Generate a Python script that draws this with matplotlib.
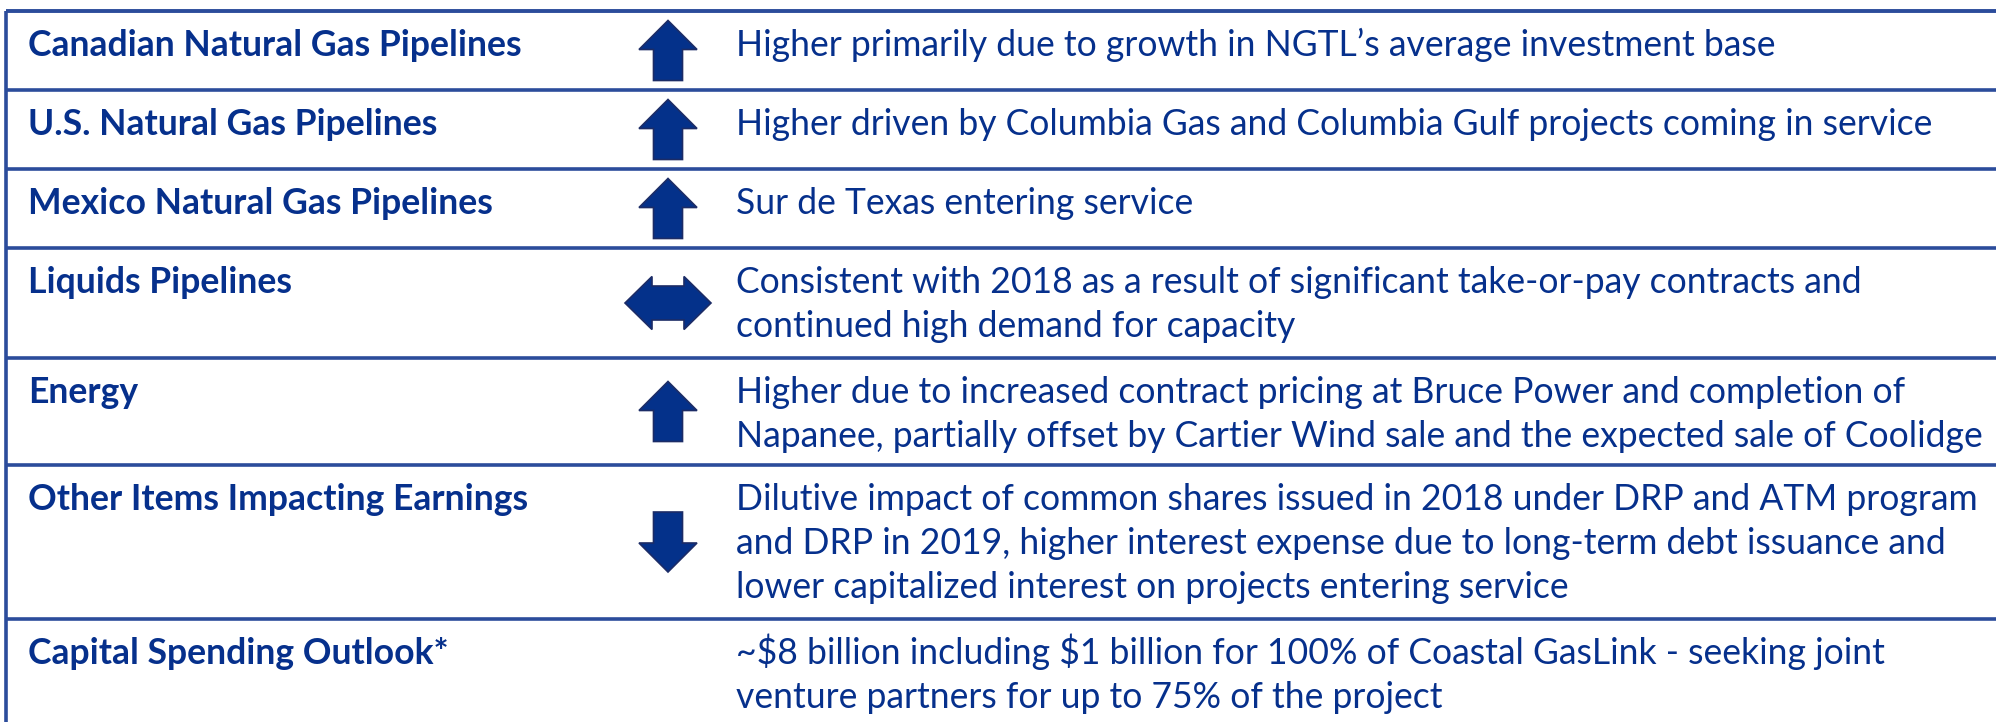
import matplotlib.pyplot as plt
from matplotlib.patches import Polygon

# table content
labels = ['Canadian Natural Gas Pipelines', 'U.S. Natural Gas Pipelines',
          'Mexico Natural Gas Pipelines', 'Liquids Pipelines', 'Energy',
          'Other Items Impacting Earnings', 'Capital Spending Outlook*']
trend = ['up', 'up', 'up', 'flat', 'up', 'down', None]
notes = [
    ["Higher primarily due to growth in NGTL\u2019s average investment base"],
    ["Higher driven by Columbia Gas and Columbia Gulf projects coming in service"],
    ["Sur de Texas entering service"],
    ["Consistent with 2018 as a result of significant take-or-pay contracts and",
     "continued high demand for capacity"],
    ["Higher due to increased contract pricing at Bruce Power and completion of",
     "Napanee, partially offset by Cartier Wind sale and the expected sale of Coolidge"],
    ["Dilutive impact of common shares issued in 2018 under DRP and ATM program",
     "and DRP in 2019, higher interest expense due to long-term debt issuance and",
     "lower capitalized interest on projects entering service"],
    ["~$8 billion including $1 billion for 100% of Coastal GasLink - seeking joint",
     "venture partners for up to 75% of the project"],
]

# layout (pixels)
W, H = 1996, 722
row_h = [79, 79, 79, 110, 107, 154, 110]
top0 = 11
left = 6
x_label = 28
x_arrow = 668
x_note = 736
first_base = 45
line_step = 44
fs = 25.6

navy = '#06308C'
arrow_c = '#04318A'
arrow_edge = '#1C2C66'
rule_c = '#2B4C9B'

plt.rcParams['font.family'] = ['Lato', 'DejaVu Sans']
plt.rcParams['text.parse_math'] = False

fig = plt.figure(figsize=(W / 100, H / 100), dpi=100)
ax = fig.add_axes([0, 0, 1, 1])
ax.set_xlim(0, W)
ax.set_ylim(H, 0)
ax.axis('off')


def draw_arrow(cx, cy, kind):
    if kind == 'up' or kind == 'down':
        hw, hh, sw, tot = 29, 29, 14.5, 60
        s = -1 if kind == 'up' else 1
        tip = cy + s * tot / 2
        base = tip - s * hh
        end = cy - s * tot / 2
        pts = [(cx, tip), (cx - hw, base), (cx - sw, base), (cx - sw, end),
               (cx + sw, end), (cx + sw, base), (cx + hw, base)]
    else:
        hw, hl, sh = 43, 27, 17
        hh = 26.5
        pts = [(cx - hw, cy), (cx - hw + hl, cy - hh), (cx - hw + hl, cy - sh),
               (cx + hw - hl, cy - sh), (cx + hw - hl, cy - hh), (cx + hw, cy),
               (cx + hw - hl, cy + hh), (cx + hw - hl, cy + sh),
               (cx - hw + hl, cy + sh), (cx - hw + hl, cy + hh)]
    ax.add_patch(Polygon(pts, closed=True, facecolor=arrow_c,
                         edgecolor=arrow_edge, linewidth=1.2, zorder=3))


top = top0
ax.plot([left, W], [top, top], color=rule_c, lw=2.8, solid_capstyle='butt')
for i in range(len(labels)):
    h = row_h[i]
    ax.text(x_label, top + first_base, labels[i], fontsize=fs,
            fontweight='bold', color=navy, va='baseline', ha='left')
    for j, line in enumerate(notes[i]):
        ax.text(x_note, top + first_base + j * line_step, line, fontsize=fs,
                color=navy, va='baseline', ha='left')
    if trend[i] is not None:
        draw_arrow(x_arrow, top + h / 2, trend[i])
    top += h
    if top < H:
        ax.plot([left, W], [top, top], color=rule_c, lw=2.6,
                solid_capstyle='butt')

ax.plot([left, left], [top0, H], color=rule_c, lw=2.6, solid_capstyle='butt')

fig.savefig('out.png', dpi=100)
